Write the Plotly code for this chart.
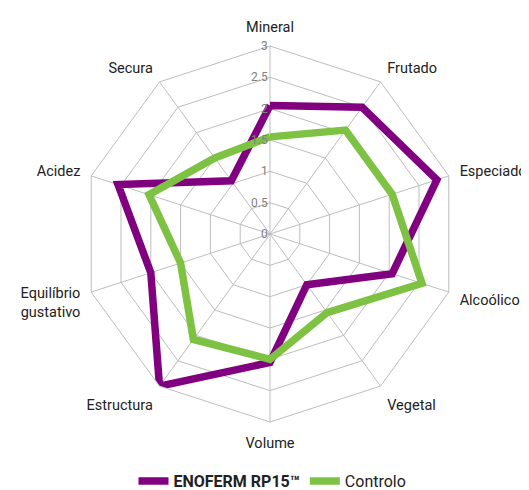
import plotly.graph_objects as go

categories = ["Mineral", "Frutado", "Especiado", "Alcoólico", "Vegetal", "Volume",
              "Estructura", "Equilíbrio<br>gustativo", "Acidez", "Secura"]
enoferm = [2.05, 2.5, 2.8, 2.05, 1.0, 2.05, 3.0, 2.0, 2.55, 1.05]
controlo = [1.55, 2.05, 2.05, 2.55, 1.55, 2.0, 2.08, 1.5, 2.03, 1.5]
tick_vals = [0, 0.5, 1, 1.5, 2, 2.5, 3]
tick_text = ["0", "0.5", "1", "1.5", "2", "2.5", "3"]

FONT = "Roboto, Lato, sans-serif"

fig = go.Figure()
fig.add_trace(go.Scatterpolar(
    r=enoferm + [enoferm[0]], theta=categories + [categories[0]],
    mode="lines", name="<b>ENOFERM RP15™</b>",
    line=dict(color="#800080", width=7.5),
))
fig.add_trace(go.Scatterpolar(
    r=controlo + [controlo[0]], theta=categories + [categories[0]],
    mode="lines", name="Controlo",
    line=dict(color="#7DC242", width=7.5),
))

fig.update_layout(
    width=529, height=490,
    margin=dict(l=0, r=0, t=0, b=0),
    paper_bgcolor="white",
    font=dict(family=FONT, size=14.5, color="#222222"),
    polar=dict(
        domain=dict(x=[74/529, 450/529], y=[1-414/490, 1-38/490]),
        bgcolor="rgba(0,0,0,0)",
        gridshape="linear",
        angularaxis=dict(
            rotation=90, direction="clockwise",
            showline=True, linecolor="#bdbdbd", linewidth=1,
            gridcolor="#bdbdbd", gridwidth=1,
            ticks="outside", ticklen=8, tickcolor="rgba(0,0,0,0)",
            tickfont=dict(family=FONT, size=14.5, color="#222222"),
        ),
        radialaxis=dict(
            range=[0, 3], tickvals=tick_vals, ticktext=tick_text,
            angle=90, tickangle=90, side="counterclockwise",
            showline=False, gridcolor="#bdbdbd", gridwidth=1,
            ticks="", tickfont=dict(family=FONT, size=12, color="#808080"),
        ),
    ),
    legend=dict(
        orientation="h", x=0.5, xanchor="center", y=0.0, yanchor="bottom",
        font=dict(family=FONT, size=16, color="#222222"),
    ),
    showlegend=True,
)

fig.write_html("out.html")
